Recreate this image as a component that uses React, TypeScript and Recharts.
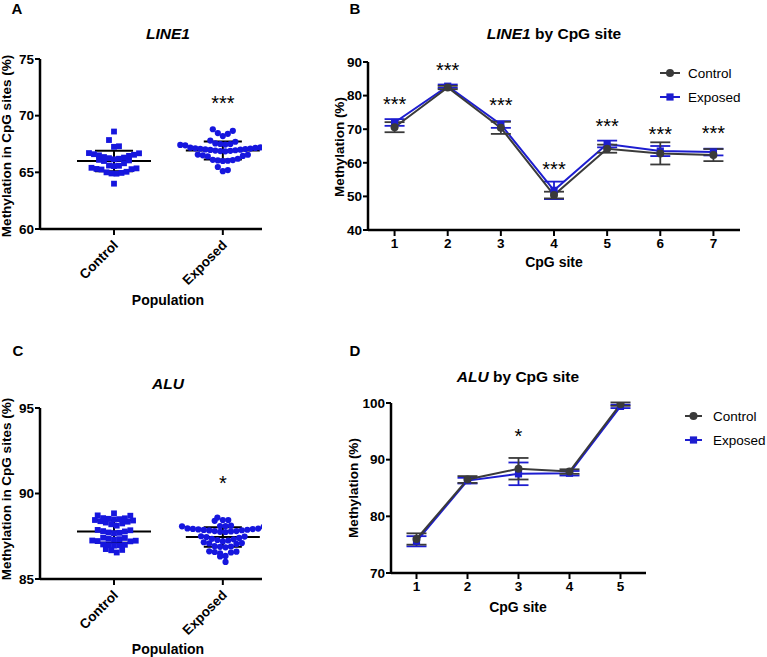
import React from 'react';
import { ScatterChart, ComposedChart, Scatter, Line, XAxis, YAxis, ErrorBar, ReferenceLine } from 'recharts';

const FONT = '"Liberation Sans", Arial, Helvetica, sans-serif';
const DOT_BLUE = '#1616de';
const LINE_DARK = '#3a3a3a';
const LINE_BLUE = '#1d1dd0';

// ---------- Panel A: LINE1 (individual values) ----------
const populations = ['Control', 'Exposed'];
const line1Control = [68.6, 67.85, 67.3, 67.25, 66.7, 66.68, 66.6, 66.55, 66.45, 66.35, 66.25, 66.15, 66.05, 66.0, 66.1, 66.2, 66.3, 66.5,
  65.8, 65.6, 65.58, 65.55, 65.4, 65.35, 65.3, 65.28, 65.25, 65.05, 64.95, 64.9, 64.88, 65.0, 64.0];
const line1Exposed = [68.8, 68.46, 68.2, 68.4, 68.66, 67.7, 67.8, 67.5, 67.45, 67.4, 67.42, 67.5, 67.38, 67.55,
  67.2, 67.15, 67.1, 67.05, 67.0, 66.95, 66.9, 66.85, 66.88, 66.92, 66.98, 67.02, 67.08, 67.12, 67.18,
  66.57, 66.5, 66.4, 66.45, 66.55, 66.1, 66.05, 66.0, 66.02, 66.08, 66.2, 65.47, 65.1, 65.2];
const line1Means = [66.0, 66.93];
const line1Sds = [0.9, 0.8];
const line1Stars = ['', '***'];
const line1StarLevels = [0, 71.5];

// ---------- Panel C: ALU (individual values) ----------
const aluControl = [88.84, 88.7, 88.72, 88.55, 88.5, 88.45, 88.38, 88.3, 88.2, 88.12, 88.25, 88.35, 88.42, 88.48, 88.52, 88.56,
  87.87, 87.8, 87.7, 87.68, 87.72, 87.78, 87.85, 87.4, 87.35, 87.3, 87.33, 87.42, 87.24, 87.22, 87.25, 87.2,
  86.97, 87.0, 86.95, 87.02, 86.98, 86.7, 86.55, 86.68, 86.75];
const aluExposed = [88.59, 88.45, 88.4, 88.45, 88.1, 88.12, 88.08, 88.1, 88.05,
  87.95, 87.92, 87.88, 87.85, 87.8, 87.78, 87.75, 87.76, 87.8, 87.84, 87.87, 87.9, 87.93, 87.96,
  87.5, 87.45, 87.35, 87.28, 87.2, 87.1, 87.05, 87.08, 87.15, 87.25, 87.32, 87.4, 87.48,
  86.9, 86.88, 86.85, 86.92, 86.6, 86.55, 86.5, 86.62, 86.58, 86.35, 86.32, 86.0];
const aluMeans = [87.78, 87.45];
const aluSds = [0.66, 0.57];
const aluStars = ['', '*'];
const aluStarLevels = [0, 90.9];

// ---------- Panel B: LINE1 by CpG site ----------
const line1Sites = [1, 2, 3, 4, 5, 6, 7];
const line1SiteControl = [70.6, 82.4, 70.4, 50.4, 64.2, 62.8, 62.3];
const line1SiteControlErr = [1.5, 0.5, 1.8, 1.0, 1.2, 3.3, 1.8];
const line1SiteExposed = [72.0, 82.8, 71.4, 51.8, 65.6, 63.5, 63.2];
const line1SiteExposedErr = [1.0, 0.5, 1.0, 2.6, 1.0, 1.5, 1.0];
const line1SiteStars = ['***', '***', '***', '***', '***', '***', '***'];
const line1SiteStarLevels = [78.7, 89.1, 78.4, 59.6, 72.2, 70.0, 70.3];

// ---------- Panel D: ALU by CpG site ----------
const aluSites = [1, 2, 3, 4, 5];
const aluSiteControl = [76.0, 86.5, 88.4, 87.9, 99.8];
const aluSiteControlErr = [1.0, 0.6, 1.9, 0.4, 0.3];
const aluSiteExposed = [75.6, 86.3, 87.5, 87.6, 99.4];
const aluSiteExposedErr = [0.9, 0.5, 2.0, 0.4, 0.3];
const aluSiteStars = ['', '', '*', '', ''];
const aluSiteStarLevels = [0, 0, 94.95, 0, 0];

// ---------- layout helpers ----------
function swarm(values: number[], center: number, binW: number, step: number) {
  const sorted = [...values].sort((a, b) => a - b);
  const groups: number[][] = [];
  let cur: number[] = [];
  let start = -Infinity;
  sorted.forEach((v) => {
    if (cur.length === 0 || v - start >= binW) {
      if (cur.length) groups.push(cur);
      cur = [v];
      start = v;
    } else cur.push(v);
  });
  if (cur.length) groups.push(cur);
  const out: { x: number; y: number }[] = [];
  groups.forEach((arr) => {
    const n = arr.length;
    arr.forEach((v, i) => {
      let off: number;
      if (n % 2 === 1) {
        const k = Math.ceil(i / 2);
        off = i === 0 ? 0 : i % 2 === 1 ? k : -k;
      } else {
        const k = Math.floor(i / 2) + 0.5;
        off = i % 2 === 0 ? k : -k;
      }
      out.push({ x: center + off * step, y: v });
    });
  });
  return out;
}

const squareShape = (props: any) =>
  props.cx == null ? <g /> : <rect x={props.cx - 2.9} y={props.cy - 2.9} width={5.8} height={5.8} fill={DOT_BLUE} />;
const circleShape = (props: any) =>
  props.cx == null ? <g /> : <circle cx={props.cx} cy={props.cy} r={3.1} fill={DOT_BLUE} />;
const starShape = (props: any) =>
  props.cx == null || !props.payload.label ? <g /> : (
    <text x={props.cx} y={props.cy + 11.5} textAnchor="middle" fontSize={20} fontFamily={FONT} fill="#000">
      {props.payload.label}
    </text>
  );

const axisLine = { stroke: '#000', strokeWidth: 2.5 };
const tickLine = { stroke: '#000', strokeWidth: 2 };
const tickStyle = { fill: '#000', fontSize: 13.5, fontWeight: 'bold', fontFamily: FONT };

const RotatedTick = (props: any) => {
  const { x, y, payload } = props;
  const label = populations[Math.round(payload.value) - 1] ?? '';
  const ax = x + 5;
  const ay = y + 9;
  return (
    <text x={ax} y={ay} transform={`rotate(-45, ${ax}, ${ay})`} textAnchor="end" fontFamily={FONT}
      fontWeight="bold" fontSize={13.5} fill="#000">
      {label}
    </text>
  );
};

function DotPlot(props: {
  control: number[]; exposed: number[]; means: number[]; sds: number[]; stars: string[]; starLevels: number[];
  domain: [number, number]; ticks: number[]; binW: number; step: number;
  top: number; height: number; marginTop: number; marginBottom: number;
}) {
  const ctrl = swarm(props.control, 1, props.binW, props.step);
  const expo = swarm(props.exposed, 2, props.binW, props.step);
  const starData = props.stars.map((s, i) => ({ x: i + 1, y: props.starLevels[i], label: s })).filter((d) => d.label);
  return (
    <div style={{ position: 'absolute', left: 0, top: props.top }}>
      <ScatterChart width={270} height={props.height}
        margin={{ top: props.marginTop, right: 8, bottom: props.marginBottom, left: 0 }}>
        <XAxis type="number" dataKey="x" domain={[0.32, 2.36]} ticks={[1, 2]} allowDataOverflow
          axisLine={axisLine} tickLine={tickLine} tickSize={6} height={60} tick={<RotatedTick />} />
        <YAxis type="number" dataKey="y" domain={props.domain} ticks={props.ticks} width={40} allowDataOverflow
          axisLine={axisLine} tickLine={tickLine} tickSize={5} tickMargin={1} tick={tickStyle} />
        <Scatter data={ctrl} shape={squareShape} isAnimationActive={false} />
        <Scatter data={expo} shape={circleShape} isAnimationActive={false} />
        <Scatter data={starData} shape={starShape} isAnimationActive={false} />
        {props.means.map((m, i) => (
          <ReferenceLine key={`m${i}`} segment={[{ x: i + 1 - 0.34, y: m }, { x: i + 1 + 0.34, y: m }]}
            stroke="#000" strokeWidth={2} ifOverflow="visible" />
        ))}
        {props.means.map((m, i) => (
          <ReferenceLine key={`u${i}`} segment={[{ x: i + 1 - 0.175, y: m + props.sds[i] }, { x: i + 1 + 0.175, y: m + props.sds[i] }]}
            stroke="#000" strokeWidth={2} ifOverflow="visible" />
        ))}
        {props.means.map((m, i) => (
          <ReferenceLine key={`l${i}`} segment={[{ x: i + 1 - 0.175, y: m - props.sds[i] }, { x: i + 1 + 0.175, y: m - props.sds[i] }]}
            stroke="#000" strokeWidth={2} ifOverflow="visible" />
        ))}
        {props.means.map((m, i) => (
          <ReferenceLine key={`v${i}`} segment={[{ x: i + 1, y: m - props.sds[i] }, { x: i + 1, y: m + props.sds[i] }]}
            stroke="#000" strokeWidth={2} ifOverflow="visible" />
        ))}
      </ScatterChart>
    </div>
  );
}

function SiteChart(props: {
  sites: number[]; control: number[]; controlErr: number[]; exposed: number[]; exposedErr: number[];
  stars: string[]; starLevels: number[]; domain: [number, number]; ticks: number[];
  left: number; top: number; width: number; height: number;
  margin: { top: number; right: number; bottom: number; left: number }; yWidth: number;
}) {
  const table = props.sites.map((s, i) => ({
    site: s, control: props.control[i], controlErr: props.controlErr[i],
    exposed: props.exposed[i], exposedErr: props.exposedErr[i],
  }));
  const starData = props.sites.map((s, i) => ({ site: s, level: props.starLevels[i], label: props.stars[i] })).filter((d) => d.label);
  const n = props.sites.length;
  return (
    <div style={{ position: 'absolute', left: props.left, top: props.top }}>
      <ComposedChart width={props.width} height={props.height} data={table} margin={props.margin}>
        <XAxis type="number" dataKey="site" domain={[0.5, n + 0.5]} ticks={props.sites} allowDataOverflow
          axisLine={axisLine} tickLine={tickLine} tickSize={6} height={40} tick={tickStyle} />
        <YAxis type="number" domain={props.domain} ticks={props.ticks} width={props.yWidth} allowDataOverflow
          axisLine={axisLine} tickLine={tickLine} tickSize={5} tickMargin={1} tick={tickStyle} />
        <Line dataKey="exposed" stroke={LINE_BLUE} strokeWidth={2} isAnimationActive={false}
          dot={(p: any) => <rect key={`e${p.index}`} x={p.cx - 3.6} y={p.cy - 3.6} width={7.2} height={7.2} fill={LINE_BLUE} />}>
          <ErrorBar dataKey="exposedErr" width={10} stroke={LINE_BLUE} strokeWidth={1.8} direction="y" />
        </Line>
        <Line dataKey="control" stroke={LINE_DARK} strokeWidth={2} isAnimationActive={false}
          dot={(p: any) => <circle key={`c${p.index}`} cx={p.cx} cy={p.cy} r={4} fill={LINE_DARK} />}>
          <ErrorBar dataKey="controlErr" width={10} stroke={LINE_DARK} strokeWidth={1.8} direction="y" />
        </Line>
        <Scatter data={starData} dataKey="level" shape={starShape} isAnimationActive={false} />
      </ComposedChart>
    </div>
  );
}

const txt = { fontFamily: FONT, fill: '#000' } as const;

function LegendRows(props: { x1: number; x2: number; tx: number; y1: number; y2: number }) {
  const mid = (props.x1 + props.x2) / 2;
  return (
    <g>
      <line x1={props.x1} x2={props.x2} y1={props.y1} y2={props.y1} stroke={LINE_DARK} strokeWidth={2} />
      <circle cx={mid} cy={props.y1} r={4} fill={LINE_DARK} />
      <text x={props.tx} y={props.y1 + 5} fontSize={13.5} {...txt}>Control</text>
      <line x1={props.x1} x2={props.x2} y1={props.y2} y2={props.y2} stroke={LINE_BLUE} strokeWidth={2} />
      <rect x={mid - 3.6} y={props.y2 - 3.6} width={7.2} height={7.2} fill={LINE_BLUE} />
      <text x={props.tx} y={props.y2 + 5} fontSize={13.5} {...txt}>Exposed</text>
    </g>
  );
}

export default function App() {
  return (
    <div style={{ position: 'absolute', left: 0, top: 0, width: 767, height: 657, background: '#fff', overflow: 'hidden' }}>
      <DotPlot control={line1Control} exposed={line1Exposed} means={line1Means} sds={line1Sds}
        stars={line1Stars} starLevels={line1StarLevels} domain={[60, 75]} ticks={[60, 65, 70, 75]}
        binW={0.6} step={0.046} top={0} height={320} marginTop={59} marginBottom={31} />
      <DotPlot control={aluControl} exposed={aluExposed} means={aluMeans} sds={aluSds}
        stars={aluStars} starLevels={aluStarLevels} domain={[85, 95]} ticks={[85, 90, 95]}
        binW={0.33} step={0.05} top={330} height={330} marginTop={78} marginBottom={21} />
      <SiteChart sites={line1Sites} control={line1SiteControl} controlErr={line1SiteControlErr}
        exposed={line1SiteExposed} exposedErr={line1SiteExposedErr} stars={line1SiteStars}
        starLevels={line1SiteStarLevels} domain={[40, 90]} ticks={[40, 50, 60, 70, 80, 90]}
        left={330} top={0} width={437} height={290} margin={{ top: 62, right: 27, bottom: 20, left: 0 }} yWidth={38} />
      <SiteChart sites={aluSites} control={aluSiteControl} controlErr={aluSiteControlErr}
        exposed={aluSiteExposed} exposedErr={aluSiteExposedErr} stars={aluSiteStars}
        starLevels={aluSiteStarLevels} domain={[70, 100]} ticks={[70, 80, 90, 100]}
        left={350} top={340} width={417} height={290} margin={{ top: 63, right: 121, bottom: 17, left: 0 }} yWidth={41} />
      <svg width={767} height={657} style={{ position: 'absolute', left: 0, top: 0, pointerEvents: 'none' }}>
        {/* panel letters */}
        <text x={17} y={14} textAnchor="middle" fontSize={15} fontWeight="bold" {...txt}>A</text>
        <text x={355} y={14} textAnchor="middle" fontSize={15} fontWeight="bold" {...txt}>B</text>
        <text x={18} y={356} textAnchor="middle" fontSize={15} fontWeight="bold" {...txt}>C</text>
        <text x={355} y={356} textAnchor="middle" fontSize={15} fontWeight="bold" {...txt}>D</text>
        {/* titles */}
        <text x={168} y={39} textAnchor="middle" fontSize={15.5} fontWeight="bold" fontStyle="italic" {...txt}>LINE1</text>
        <text x={168} y={389} textAnchor="middle" fontSize={15.5} fontWeight="bold" fontStyle="italic" {...txt}>ALU</text>
        <text x={554} y={39} textAnchor="middle" fontSize={15.5} fontWeight="bold" {...txt}>
          <tspan fontStyle="italic">LINE1</tspan> by CpG site
        </text>
        <text x={518} y={382} textAnchor="middle" fontSize={15.5} fontWeight="bold" {...txt}>
          <tspan fontStyle="italic">ALU</tspan> by CpG site
        </text>
        {/* axis titles */}
        <text x={168} y={305} textAnchor="middle" fontSize={14} fontWeight="bold" {...txt}>Population</text>
        <text x={168} y={654} textAnchor="middle" fontSize={14} fontWeight="bold" {...txt}>Population</text>
        <text x={554} y={267} textAnchor="middle" fontSize={14} fontWeight="bold" {...txt}>CpG site</text>
        <text x={518} y={612} textAnchor="middle" fontSize={14} fontWeight="bold" {...txt}>CpG site</text>
        <text transform="translate(11,146) rotate(-90)" textAnchor="middle" fontSize={13.5} fontWeight="bold" {...txt}>Methylation in CpG sites (%)</text>
        <text transform="translate(11,489) rotate(-90)" textAnchor="middle" fontSize={13.5} fontWeight="bold" {...txt}>Methylation in CpG sites (%)</text>
        <text transform="translate(344,147) rotate(-90)" textAnchor="middle" fontSize={13.5} fontWeight="bold" {...txt}>Methylation (%)</text>
        <text transform="translate(358,488) rotate(-90)" textAnchor="middle" fontSize={13.5} fontWeight="bold" {...txt}>Methylation (%)</text>
        {/* legends */}
        <LegendRows x1={660} x2={680} tx={688} y1={73} y2={97} />
        <LegendRows x1={685} x2={702} tx={713} y1={416} y2={440} />
      </svg>
    </div>
  );
}
